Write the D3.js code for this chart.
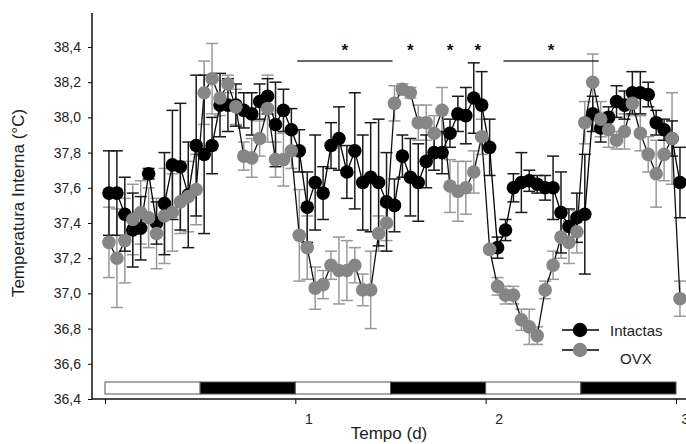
<!DOCTYPE html>
<html>
<head>
<meta charset="utf-8">
<script src="https://cdn.jsdelivr.net/npm/d3@7"></script>
<style>
  body { margin: 0; background: #fff; }
  svg { display: block; font-family: Arial, "Liberation Sans", sans-serif; }
</style>
</head>
<body>
<svg width="686" height="444"></svg>
<script>
// hours since start (each point = 1 h mean)
const hours = [0.5, 1.5, 2.5, 3.5, 4.5, 5.5, 6.5, 7.5, 8.5, 9.5, 10.5, 11.5,
  12.5, 13.5, 14.5, 15.5, 16.5, 17.5, 18.5, 19.5, 20.5, 21.5, 22.5, 23.5,
  24.5, 25.5, 26.5, 27.5, 28.5, 29.5, 30.5, 31.5, 32.5, 33.5, 34.5, 35.5,
  36.5, 37.5, 38.5, 39.5, 40.5, 41.5, 42.5, 43.5, 44.5, 45.5, 46.5, 47.5,
  48.5, 49.5, 50.5, 51.5, 52.5, 53.5, 54.5, 55.5, 56.5, 57.5, 58.5, 59.5,
  60.5, 61.5, 62.5, 63.5, 64.5, 65.5, 66.5, 67.5, 68.5, 69.5, 70.5, 71.5, 72.5];

const intactas = [37.57, 37.57, 37.45, 37.36, 37.37, 37.68, 37.40, 37.51, 37.73, 37.72, 37.56, 37.84,
  37.79, 37.84, 38.07, 38.07, 38.07, 38.04, 38.02, 38.09, 38.12, 37.96, 38.04, 37.93,
  37.81, 37.49, 37.63, 37.57, 37.84, 37.88, 37.69, 37.81, 37.63, 37.66, 37.63, 37.52,
  37.50, 37.78, 37.66, 37.63, 37.75, 37.80, 37.80, 37.91, 38.02, 38.01, 38.11, 38.07,
  37.83, 37.26, 37.36, 37.60, 37.63, 37.64, 37.62, 37.60, 37.60, 37.46, 37.38, 37.43,
  37.45, 38.02, 37.94, 38.00, 38.09, 38.07, 38.14, 38.14, 38.13, 37.97, 37.93, 37.88, 37.63];
const intactasErr = [0.24, 0.24, 0.21, 0.21, 0.18, 0.03, 0.12, 0.29, 0.31, 0.36, 0.30, 0.40,
  0.45, 0.16, 0.18, 0.15, 0.12, 0.10, 0.12, 0.10, 0.10, 0.24, 0.12, 0.12,
  0.12, 0.20, 0.27, 0.15, 0.13, 0.18, 0.15, 0.33, 0.27, 0.31, 0.36, 0.28,
  0.15, 0.12, 0.22, 0.22, 0.15, 0.10, 0.12, 0.08, 0.10, 0.16, 0.20, 0.19,
  0.16, 0.06, 0.06, 0.08, 0.17, 0.06, 0.05, 0.07, 0.18, 0.23, 0.10, 0.14,
  0.34, 0.10, 0.08, 0.06, 0.09, 0.08, 0.12, 0.12, 0.07, 0.07, 0.06, 0.10, 0.20];

const ovx = [37.29, 37.20, 37.30, 37.42, 37.46, 37.43, 37.34, 37.44, 37.46, 37.52, 37.55, 37.59,
  38.14, 38.22, 38.11, 38.19, 38.06, 37.78, 37.77, 37.88, 38.05, 37.76, 37.76, 37.81,
  37.33, 37.26, 37.03, 37.05, 37.16, 37.13, 37.13, 37.16, 37.02, 37.02, 37.34, 37.40,
  38.08, 38.16, 38.14, 37.97, 37.97, 37.91, 38.04, 37.61, 37.58, 37.60, 37.69, 37.89,
  37.25, 37.04, 36.99, 36.99, 36.85, 36.81, 36.76, 37.02, 37.16, 37.32, 37.29, 37.35,
  37.97, 38.20, 37.99, 37.93, 37.87, 37.92, 38.08, 37.91, 37.79, 37.68, 37.79, 37.88, 36.97];
const ovxErr = [0.20, 0.28, 0.24, 0.20, 0.18, 0.17, 0.20, 0.27, 0.22, 0.18, 0.20, 0.20,
  0.18, 0.20, 0.10, 0.05, 0.10, 0.08, 0.11, 0.10, 0.19, 0.10, 0.15, 0.10,
  0.26, 0.18, 0.12, 0.08, 0.08, 0.19, 0.17, 0.10, 0.09, 0.22, 0.10, 0.10,
  0.10, 0.03, 0.03, 0.10, 0.10, 0.10, 0.13, 0.15, 0.17, 0.15, 0.12, 0.10,
  0.02, 0.05, 0.05, 0.05, 0.06, 0.10, 0.05, 0.05, 0.08, 0.12, 0.12, 0.12,
  0.12, 0.16, 0.10, 0.10, 0.05, 0.10, 0.07, 0.10, 0.10, 0.19, 0.15, 0.26, 0.10];

const yTicks = [36.4, 36.6, 36.8, 37.0, 37.2, 37.4, 37.6, 37.8, 38.0, 38.2, 38.4];
const xTicks = [0, 1, 2, 3];
// light/dark phases (days): white = light, black = dark
const phases = [[0, 0.5, 'light'], [0.5, 1, 'dark'], [1, 1.5, 'light'],
  [1.5, 2, 'dark'], [2, 2.5, 'light'], [2.5, 3, 'dark']];
// significance markers: [start, end] in hours (single stars have start == end)
const signif = [[25, 35.5], [38.5, 38.5], [43.5, 43.5], [47, 47], [51, 61.5]];

const svg = d3.select('svg');
const x = d3.scaleLinear().domain([0, 3]).range([105, 676]);
const y = d3.scaleLinear().domain([36.4, 38.4]).range([399, 47]);
const xh = h => x(h / 24);

// axes
const yAxis = d3.axisLeft(y).tickValues(yTicks).tickSize(4).tickPadding(7)
  .tickFormat(d => d3.format('.1f')(d).replace('.', ','));
const gy = svg.append('g').attr('transform', 'translate(92,0)').call(yAxis);
gy.select('.domain').remove();
gy.append('line').attr('x1', 0).attr('x2', 0).attr('y1', 13).attr('y2', 399)
  .attr('stroke', '#111').attr('stroke-width', 1.5);
gy.selectAll('text').attr('font-size', 14).attr('fill', '#222');

const xAxis = d3.axisBottom(x).tickValues(xTicks).tickSize(5).tickPadding(10)
  .tickFormat(d => d === 0 ? '' : d);
const gx = svg.append('g').attr('transform', 'translate(0,399)').call(xAxis);
gx.select('.domain').remove();
gx.append('line').attr('x1', 92).attr('x2', 686).attr('y1', 0).attr('y2', 0)
  .attr('stroke', '#111').attr('stroke-width', 1.5);
// labels sit a little right of their ticks; the last one runs off the edge
gx.selectAll('text').attr('font-size', 14).attr('fill', '#222')
  .attr('dx', d => d === 3 ? 9 : 13);

// axis titles
svg.append('text').attr('transform', 'translate(24,203) rotate(-90)')
  .attr('text-anchor', 'middle').attr('font-size', 17).attr('fill', '#222')
  .text('Temperatura Interna (°C)');
svg.append('text').attr('x', 389).attr('y', 439).attr('text-anchor', 'middle')
  .attr('font-size', 17).attr('fill', '#222').text('Tempo (d)');

// light/dark bar
svg.selectAll('rect.phase').data(phases).enter().append('rect')
  .attr('class', 'phase')
  .attr('x', d => x(d[0])).attr('width', d => x(d[1]) - x(d[0]))
  .attr('y', 382).attr('height', 12)
  .attr('fill', d => d[2] === 'dark' ? '#000' : '#fff')
  .attr('stroke', '#555').attr('stroke-width', 1);

// error bars of one series
const drawSeries = (vals, errs, errCol) => {
  const pts = hours.map((h, i) => ({ h, v: vals[i], e: errs[i] }));
  const eb = svg.append('g').attr('stroke', errCol).attr('stroke-width', 1.5);
  pts.forEach(p => {
    eb.append('line').attr('x1', xh(p.h)).attr('x2', xh(p.h))
      .attr('y1', y(p.v - p.e)).attr('y2', y(p.v + p.e));
    [p.v - p.e, p.v + p.e].forEach(c => {
      eb.append('line').attr('x1', xh(p.h) - 6).attr('x2', xh(p.h) + 6)
        .attr('y1', y(c)).attr('y2', y(c));
    });
  });
  return pts;
};

const line = d3.line().x(d => xh(d.h)).y(d => y(d.v));

const ovxPts = drawSeries(ovx, ovxErr, '#999');
const intPts = drawSeries(intactas, intactasErr, '#1a1a1a');

svg.append('path').attr('d', line(intPts)).attr('fill', 'none')
  .attr('stroke', '#000').attr('stroke-width', 1.3);
svg.selectAll('circle.int').data(intPts).enter().append('circle')
  .attr('class', 'int').attr('cx', d => xh(d.h)).attr('cy', d => y(d.v))
  .attr('r', 6.8).attr('fill', '#000');

svg.append('path').attr('d', line(ovxPts)).attr('fill', 'none')
  .attr('stroke', '#111').attr('stroke-width', 1.3);
svg.selectAll('circle.ovx').data(ovxPts).enter().append('circle')
  .attr('class', 'ovx').attr('cx', d => xh(d.h)).attr('cy', d => y(d.v))
  .attr('r', 6.8).attr('fill', '#868686');

// significance
signif.forEach(s => {
  if (s[1] > s[0]) {
    svg.append('line').attr('x1', xh(s[0]) - 6).attr('x2', xh(s[1]) + 6)
      .attr('y1', 61).attr('y2', 61).attr('stroke', '#333').attr('stroke-width', 1.5);
  }
  svg.append('text').attr('x', xh((s[0] + s[1]) / 2)).attr('y', 56)
    .attr('text-anchor', 'middle').attr('font-size', 17).attr('font-weight', 'bold')
    .attr('fill', '#111').text('*');
});

// legend
const legend = [['Intactas', '#000', 330, 610, 336], ['OVX', '#868686', 350, 620, 364]];
legend.forEach(l => {
  svg.append('line').attr('x1', 562).attr('x2', 599).attr('y1', l[2]).attr('y2', l[2])
    .attr('stroke', '#000').attr('stroke-width', 1.3);
  svg.append('circle').attr('cx', 580).attr('cy', l[2]).attr('r', 7.2).attr('fill', l[1]);
  svg.append('text').attr('x', l[3]).attr('y', l[4]).attr('font-size', 15)
    .attr('fill', '#222').text(l[0]);
});
</script>
</body>
</html>
